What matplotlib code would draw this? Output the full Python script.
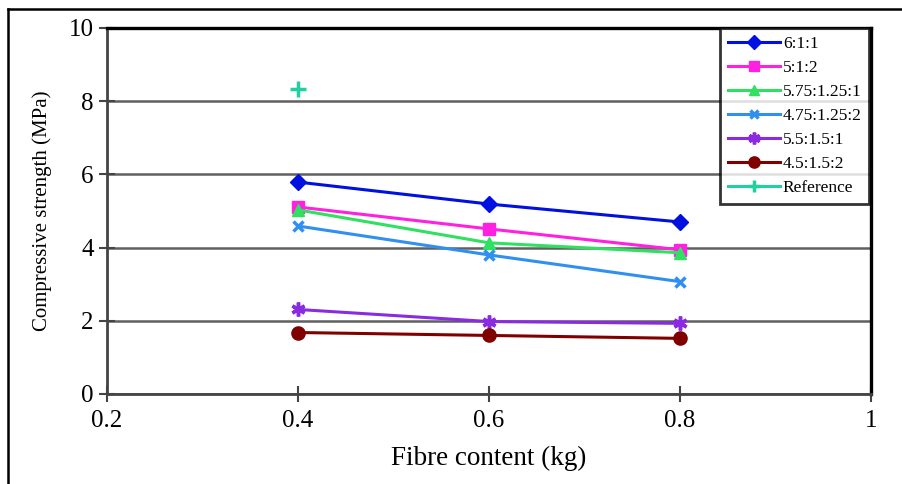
import matplotlib
matplotlib.use("Agg")
import matplotlib.pyplot as plt
from matplotlib.lines import Line2D

plt.rcParams['font.family'] = ['Liberation Serif', 'DejaVu Serif']

fibre = [0.4, 0.6, 0.8]
s_611 = [5.79, 5.19, 4.70]
s_512 = [5.11, 4.51, 3.94]
s_5751251 = [5.03, 4.13, 3.86]
s_4751252 = [4.59, 3.80, 3.07]
s_5515_1 = [2.31, 1.98, 1.93]
s_4515_2 = [1.68, 1.60, 1.52]
ref_x = [0.4]
ref_y = [8.32]

labels = ["6:1:1", "5:1:2", "5.75:1.25:1", "4.75:1.25:2", "5.5:1.5:1", "4.5:1.5:2", "Reference"]

W, H = 902, 484
fig = plt.figure(figsize=(W/100, H/100), dpi=100)
L, R, T, B = 107, 871, 28, 394
ax = fig.add_axes([L/W, 1-B/H, (R-L)/W, (B-T)/H])

ax.plot(fibre, s_611, color='#0010e0', marker='D', ms=8, lw=2.2, label=labels[0])
ax.plot(fibre, s_512, color='#ff20e0', marker='s', ms=8.5, lw=2.2, label=labels[1])
ax.plot(fibre, s_5751251, color='#30e060', marker='^', ms=9, lw=2.2, label=labels[2])
ax.plot(fibre, s_4751252, color='#3090f0', marker='x', ms=7, mew=2.5, lw=2.2, label=labels[3])
ax.plot(fibre, s_5515_1, color='#8a2be2', marker=(6, 2, 0), ms=10, mew=2.5, lw=2.2, label=labels[4])
ax.plot(fibre, s_4515_2, color='#800000', marker='o', ms=9.5, lw=2.2, label=labels[5])
ax.plot(ref_x, ref_y, color='#20d0a0', marker='+', ms=11, mew=2.5, lw=2.2, ls='-', label=labels[6])

ax.set_xlim(0.2, 1.0)
ax.set_ylim(0, 10)
ax.set_xticks([0.2, 0.4, 0.6, 0.8, 1.0])
ax.set_xticklabels(["0.2", "0.4", "0.6", "0.8", "1"])
ax.set_yticks([0, 2, 4, 6, 8, 10])
ax.tick_params(axis='both', direction='inout', length=11, width=1.5, color='#444444', labelsize=18)
ax.tick_params(axis='x', pad=6)
ax.tick_params(axis='y', pad=4)
ax.yaxis.grid(True, color='#606060', lw=1.8)
ax.set_axisbelow(True)
for s in ['left', 'bottom']:
    ax.spines[s].set_color('#444444')
    ax.spines[s].set_linewidth(2.0)
for s in ['top', 'right']:
    ax.spines[s].set_color('black')
    ax.spines[s].set_linewidth(2.4)

ax.set_xlabel("Fibre content (kg)", fontsize=19.5, labelpad=10)
ax.set_ylabel("Compressive strength (MPa)", fontsize=15, labelpad=12)

leg = ax.legend(loc='upper right', bbox_to_anchor=(0.998, 1.0), fontsize=12.5, frameon=True,
                fancybox=False, shadow=False, handlelength=3.0, borderpad=0.45,
                labelspacing=0.45, handletextpad=0.15, borderaxespad=0.0, markerscale=0.85)
leg.get_frame().set_edgecolor('black')
leg.get_frame().set_linewidth(2.0)

# figure border (left and top)
fig.add_artist(Line2D([8/W, 8/W], [0, 1-9/H], transform=fig.transFigure, color='black', lw=1.8))
fig.add_artist(Line2D([8/W, 1], [1-9/H, 1-9/H], transform=fig.transFigure, color='black', lw=1.8))

fig.savefig("out.png", dpi=100)
